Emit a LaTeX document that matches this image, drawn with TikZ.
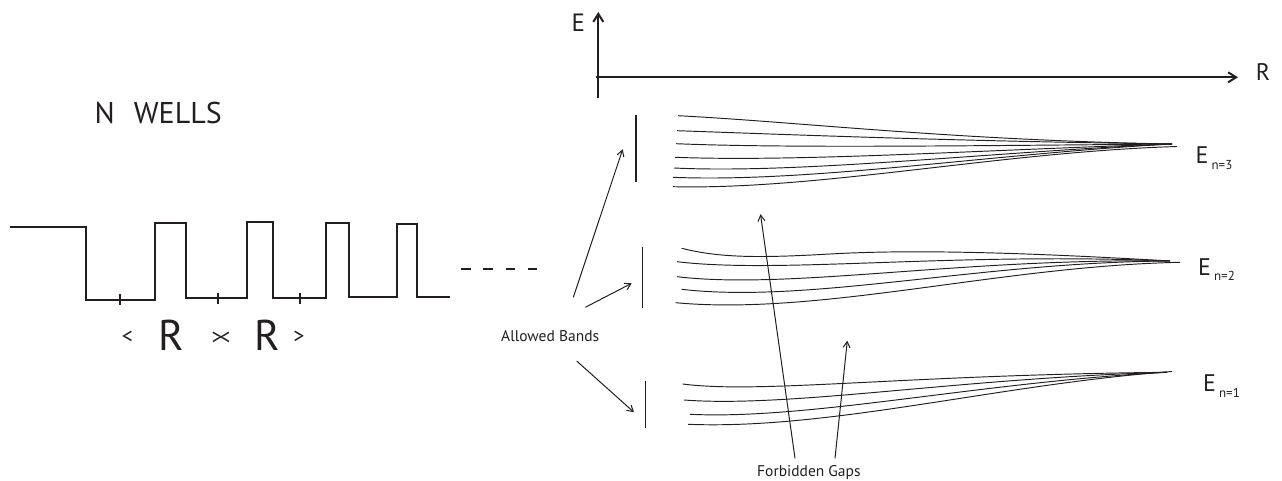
\documentclass[tikz,border=0pt]{standalone}
\usepackage{fontspec}
\setmainfont{PT Sans}
\usetikzlibrary{arrows.meta}
\definecolor{ink}{RGB}{35,31,32}
\begin{document}
\begin{tikzpicture}[x=1pt,y=-1pt,
  txt/.style={inner sep=0pt, text=ink},
  well/.style={draw=ink, line width=1.7pt},
  tick/.style={draw=ink, line width=1.3pt},
  axis/.style={draw=ink, line width=2pt, -{Straight Barb[length=8pt,width=10pt,line width=2pt]}},
  band/.style={draw=ink, line width=0.95pt},
  bar/.style={draw=ink, line width=1.2pt},
  ptr/.style={draw=ink, line width=1pt, -{Straight Barb[length=6pt,width=7pt,line width=1pt]}},
]
\useasboundingbox (0,0) rectangle (1282,481);

% ---------- N wells ----------
\node[txt, anchor=base west, font=\fontsize{30}{30}\selectfont] (nwells) at (94.5,123.5) {N\hspace{19pt}WELLS};

\draw[well] (10,227.3) -- (86,227.3) -- (86,300) -- (155,300) -- (155,223.3)
  -- (185.7,223.3) -- (185.7,298) -- (247,298) -- (247,222.3) -- (272.7,222.3)
  -- (272.7,298.3) -- (326,298.3) -- (326,223.3) -- (349.3,223.3) -- (349.3,296.7)
  -- (397.3,296.7) -- (397.3,224) -- (417,224) -- (417,296.7) -- (450,296.7);
\draw[tick] (120,294) -- (120,305);
\draw[tick] (218,293) -- (218,304);
\draw[tick] (300,293) -- (300,304);
\draw[draw=ink, line width=2pt, dash pattern=on 9.5pt off 12.8pt] (461,269) -- (538,269);

\node[txt, font=\fontsize{22}{22}\selectfont] (lt) at (127.5,337.7) {<};
\node[txt, font=\fontsize{43}{43}\selectfont] (r1) at (170.8,335) {R};
\node[txt, font=\fontsize{22}{22}\selectfont] (mid) at (221,337.8) {>\kern-3.5pt<};
\node[txt, font=\fontsize{43}{43}\selectfont] (r2) at (267.5,335) {R};
\node[txt, font=\fontsize{22}{22}\selectfont] (gt) at (299,337.7) {>};

% ---------- axes ----------
\coordinate (O) at (598.3,77.3);
\coordinate (Ebot) at (598.3,98);
\coordinate (Etop) at (598.3,12);
\coordinate (Rbeg) at (596,77.3);
\coordinate (Rend) at (1238,77.3);
\draw[axis] (Ebot) -- (Etop);
\draw[axis] (Rbeg) -- (Rend);
\node[txt, font=\fontsize{25}{25}\selectfont] (Elab) at (578.3,22.5) {E};
\node[txt, font=\fontsize{24}{24}\selectfont] (Rlab) at (1263,72.5) {R};

% ---------- bars ----------
\draw[bar] (636,115) -- (636,182);
\draw[bar] (642.7,246.7) -- (642.7,308.3);
\draw[bar] (645.7,381) -- (645.7,428.3);

% ---------- band n=3 ----------
\draw[band] (678,115.7) .. controls (800,122) and (950,140) .. (1172,144);
\draw[band] (677,130.7) .. controls (800,135) and (950,141) .. (1172,144);
\draw[band] (676,143.7) .. controls (780,148) and (950,146) .. (1172,144);
\draw[band] (675,157.3) .. controls (800,162) and (980,150) .. (1172,144);
\draw[band] (674,168) .. controls (800,174) and (990,152) .. (1172,144);
\draw[band] (673,177.3) .. controls (810,183) and (1000,153) .. (1172,144);
\draw[band] (673,186.7) .. controls (820,190) and (1000,152) .. (1177,146.5);

% ---------- band n=2 ----------
\draw[band] (681.7,248.3) .. controls (720,258) and (760,258) .. (830,254)
  .. controls (900,250) and (1000,251) .. (1170,261);
\draw[band] (677,261.7) .. controls (780,274) and (950,252) .. (1170,261);
\draw[band] (677,276.7) .. controls (790,290) and (960,258) .. (1170,261);
\draw[band] (681.7,289.3) .. controls (810,304) and (980,262) .. (1170,261);
\draw[band] (675.7,302.7) .. controls (820,316) and (1000,266) .. (1180,262.3);

% ---------- band n=1 ----------
\draw[band] (682.7,384) .. controls (760,394) and (900,375) .. (1167,372.3);
\draw[band] (684,400) .. controls (790,408) and (960,378) .. (1167,372.3);
\draw[band] (690,414.3) .. controls (810,420) and (980,382) .. (1167,372.3);
\draw[band] (688,424.3) .. controls (830,430) and (1000,384) .. (1172,371.5);

% ---------- level labels ----------
\node[txt, anchor=base west] (E3) at (1195.5,164)
  {\fontsize{24}{24}\selectfont E\hspace{3pt}\raisebox{-5.3pt}{\fontsize{13}{13}\selectfont n=3}};
\node[txt, anchor=base west] (E2) at (1198,275)
  {\fontsize{24}{24}\selectfont E\hspace{3pt}\raisebox{-5.5pt}{\fontsize{13}{13}\selectfont n=2}};
\node[txt, anchor=base west] (E1) at (1203,391.7)
  {\fontsize{24}{24}\selectfont E\hspace{3pt}\raisebox{-5.5pt}{\fontsize{13}{13}\selectfont n=1}};

% ---------- annotations ----------
\node[txt, anchor=base west, font=\fontsize{15.5}{15.5}\selectfont] (allowed) at (501,341) {Allowed Bands};
\node[txt, anchor=base west, font=\fontsize{15.5}{15.5}\selectfont] (forbidden) at (757,476.5) {Forbidden Gaps};

\coordinate (ab1s) at (573.3,297.3);
\coordinate (ab1e) at (622.7,149.3);
\coordinate (ab2s) at (585.3,307.3);
\coordinate (ab2e) at (631.7,283.3);
\coordinate (ab3s) at (576.7,361);
\coordinate (ab3e) at (634,412.3);
\coordinate (fg1s) at (795,458.3);
\coordinate (fg1e) at (760.5,214.2);
\coordinate (fg2s) at (835,458.3);
\coordinate (fg2e) at (847.3,340.7);
\draw[ptr] (ab1s) -- (ab1e);
\draw[ptr] (ab2s) -- (ab2e);
\draw[ptr] (ab3s) -- (ab3e);
\draw[ptr] (fg1s) -- (fg1e);
\draw[ptr] (fg2s) -- (fg2e);
\end{tikzpicture}
\end{document}
